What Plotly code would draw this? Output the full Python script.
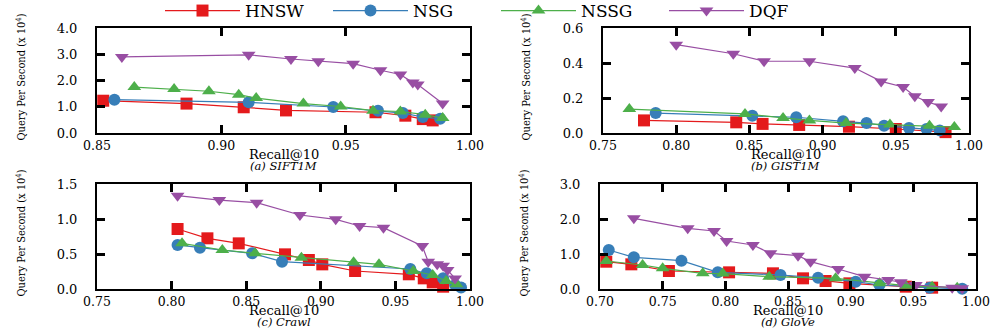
import plotly.graph_objects as go

# ---------------- data ----------------
methods = ["HNSW", "NSG", "NSSG", "DQF"]
colors = ["#e41a1c", "#377eb8", "#4daf4a", "#984ea3"]
symbols = ["square", "circle", "triangle-up", "triangle-down"]

# (a) SIFT1M
sift_hnsw_x = [0.8525, 0.886, 0.909, 0.926, 0.962, 0.974, 0.981, 0.985]
sift_hnsw_y = [1.23, 1.12, 0.98, 0.86, 0.79, 0.66, 0.53, 0.48]
sift_nsg_x = [0.857, 0.911, 0.945, 0.963, 0.973, 0.981, 0.988]
sift_nsg_y = [1.27, 1.17, 0.99, 0.85, 0.76, 0.61, 0.54]
sift_nssg_x = [0.865, 0.881, 0.895, 0.907, 0.914, 0.933, 0.948, 0.961, 0.972, 0.982, 0.989]
sift_nssg_y = [1.75, 1.68, 1.59, 1.46, 1.33, 1.12, 1.01, 0.85, 0.82, 0.70, 0.57]
sift_dqf_x = [0.860, 0.911, 0.928, 0.939, 0.953, 0.964, 0.972, 0.977, 0.979, 0.989]
sift_dqf_y = [2.90, 2.98, 2.82, 2.73, 2.64, 2.39, 2.23, 1.92, 1.85, 1.12]

# (b) GIST1M
gist_hnsw_x = [0.778, 0.841, 0.859, 0.884, 0.918, 0.950, 0.984]
gist_hnsw_y = [0.072, 0.061, 0.052, 0.046, 0.036, 0.023, 0.005]
gist_nsg_x = [0.786, 0.852, 0.882, 0.914, 0.930, 0.942, 0.959, 0.971, 0.980]
gist_nsg_y = [0.114, 0.099, 0.090, 0.067, 0.057, 0.042, 0.029, 0.023, 0.015]
gist_nssg_x = [0.768, 0.847, 0.873, 0.891, 0.916, 0.946, 0.973, 0.990]
gist_nssg_y = [0.137, 0.109, 0.086, 0.072, 0.057, 0.048, 0.042, 0.034]
gist_dqf_x = [0.800, 0.839, 0.860, 0.891, 0.922, 0.940, 0.955, 0.963, 0.972, 0.981]
gist_dqf_y = [0.505, 0.453, 0.410, 0.410, 0.371, 0.295, 0.263, 0.210, 0.177, 0.152]

# (c) Crawl
crawl_hnsw_x = [0.804, 0.824, 0.845, 0.876, 0.892, 0.901, 0.923, 0.959, 0.969, 0.975, 0.982]
crawl_hnsw_y = [0.857, 0.724, 0.652, 0.495, 0.414, 0.352, 0.257, 0.210, 0.152, 0.095, 0.033]
crawl_nsg_x = [0.804, 0.819, 0.854, 0.874, 0.960, 0.971, 0.982, 0.990, 0.994]
crawl_nsg_y = [0.629, 0.590, 0.510, 0.390, 0.286, 0.224, 0.152, 0.057, 0.020]
crawl_nssg_x = [0.807, 0.834, 0.856, 0.887, 0.922, 0.939, 0.962, 0.975, 0.984, 0.991]
crawl_nssg_y = [0.652, 0.557, 0.510, 0.448, 0.381, 0.352, 0.257, 0.200, 0.114, 0.067]
crawl_dqf_x = [0.804, 0.832, 0.857, 0.886, 0.910, 0.926, 0.942, 0.968, 0.972, 0.978, 0.982, 0.985, 0.990]
crawl_dqf_y = [1.333, 1.271, 1.233, 1.057, 0.995, 0.900, 0.876, 0.614, 0.390, 0.352, 0.333, 0.270, 0.150]

# (d) GloVe
glove_hnsw_x = [0.705, 0.725, 0.755, 0.803, 0.838, 0.862, 0.880, 0.899, 0.944, 0.965]
glove_hnsw_y = [0.78, 0.705, 0.514, 0.476, 0.448, 0.305, 0.229, 0.162, 0.067, 0.038]
glove_nsg_x = [0.707, 0.727, 0.765, 0.794, 0.844, 0.874, 0.904, 0.923, 0.963, 0.989]
glove_nsg_y = [1.114, 0.905, 0.810, 0.476, 0.400, 0.324, 0.210, 0.114, 0.038, 0.005]
glove_nssg_x = [0.705, 0.734, 0.750, 0.782, 0.798, 0.835, 0.888, 0.923, 0.944, 0.965, 0.985]
glove_nssg_y = [0.80, 0.686, 0.590, 0.448, 0.440, 0.352, 0.305, 0.162, 0.095, 0.067, 0.038]
glove_dqf_x = [0.727, 0.770, 0.791, 0.801, 0.822, 0.836, 0.858, 0.868, 0.890, 0.911, 0.930, 0.940, 0.952, 0.981, 0.989]
glove_dqf_y = [2.02, 1.733, 1.657, 1.37, 1.257, 1.02, 0.952, 0.78, 0.571, 0.352, 0.257, 0.19, 0.114, 0.038, 0.02]

x_title = "Recall@10"
y_title = "Query Per Second (x 10<sup>4</sup>)"
captions = ["<i>(a) SIFT1M</i>", "<i>(b) GIST1M</i>", "<i>(c) Crawl</i>", "<i>(d) GloVe</i>"]

x_ranges = [[0.85, 1.00], [0.75, 1.00], [0.75, 1.00], [0.70, 1.00]]
y_ranges = [[0, 4.0], [0, 0.6], [0, 1.5], [0, 3.0]]
y_dticks = [1.0, 0.2, 0.5, 1.0]

panels = [
    [(sift_hnsw_x, sift_hnsw_y), (sift_nsg_x, sift_nsg_y), (sift_nssg_x, sift_nssg_y), (sift_dqf_x, sift_dqf_y)],
    [(gist_hnsw_x, gist_hnsw_y), (gist_nsg_x, gist_nsg_y), (gist_nssg_x, gist_nssg_y), (gist_dqf_x, gist_dqf_y)],
    [(crawl_hnsw_x, crawl_hnsw_y), (crawl_nsg_x, crawl_nsg_y), (crawl_nssg_x, crawl_nssg_y), (crawl_dqf_x, crawl_dqf_y)],
    [(glove_hnsw_x, glove_hnsw_y), (glove_nsg_x, glove_nsg_y), (glove_nssg_x, glove_nssg_y), (glove_dqf_x, glove_dqf_y)],
]

# ---------------- layout geometry ----------------
W, H = 996, 329
px_boxes = [  # left, right, top, bottom in pixels
    (97, 470, 28, 133),
    (603, 969, 28, 133),
    (97, 470, 184, 289),
    (600, 976, 184, 289),
]
ytitle_px = [21, 526, 21, 524]

FONT = "DejaVu Serif, Liberation Serif, serif"
TITLE_FONT = "DejaVu Serif Condensed, Liberation Serif, serif"

fig = go.Figure()
layout = dict(
    width=W, height=H,
    margin=dict(l=0, r=0, t=0, b=0, autoexpand=False),
    paper_bgcolor="white", plot_bgcolor="white",
    font=dict(family=FONT, size=13, color="black"),
    showlegend=True,
    legend=dict(orientation="h", x=160 / W, xanchor="left", y=1 - 11 / H, yanchor="middle",
                font=dict(family=FONT, size=17), itemwidth=75,
                entrywidth=78, entrywidthmode="pixels",
                traceorder="normal", bgcolor="rgba(0,0,0,0)"),
)
annotations = []

for i, (box, series) in enumerate(zip(px_boxes, panels)):
    l, r, t, b = box
    xa = "xaxis" if i == 0 else f"xaxis{i+1}"
    ya = "yaxis" if i == 0 else f"yaxis{i+1}"
    xref = "x" if i == 0 else f"x{i+1}"
    yref = "y" if i == 0 else f"y{i+1}"
    for j, (xs, ys) in enumerate(series):
        fig.add_trace(go.Scatter(
            x=xs, y=ys, mode="lines+markers", name=methods[j],
            legendgroup=methods[j], showlegend=(i == 0),
            line=dict(color=colors[j], width=1.2),
            marker=dict(symbol=symbols[j], size=12, color=colors[j]),
            xaxis=xref, yaxis=yref, cliponaxis=False,
        ))
    layout[xa] = dict(
        domain=[l / W, r / W], anchor=yref, range=x_ranges[i], dtick=0.05, tick0=0,
        tickformat=".2f", showgrid=False, zeroline=False, automargin=False,
        showline=True, linecolor="black", linewidth=2, mirror="ticks",
        ticks="inside", ticklen=8, tickwidth=3, tickcolor="black",
        tickfont=dict(family=FONT, size=12.5),
    )
    layout[ya] = dict(
        domain=[1 - b / H, 1 - t / H], anchor=xref, range=y_ranges[i], dtick=y_dticks[i], tick0=0,
        tickformat=".1f", showgrid=False, zeroline=False, automargin=False,
        showline=True, linecolor="black", linewidth=2, mirror="ticks",
        ticks="inside", ticklen=8, tickwidth=3, tickcolor="black",
        tickfont=dict(family=FONT, size=13), ticklabelstandoff=15,
    )
    # x-axis title
    annotations.append(dict(
        text=x_title, xref="paper", yref="paper",
        x=(l + r) / 2 / W, y=1 - (b + 21) / H, xanchor="center", yanchor="middle",
        showarrow=False, font=dict(family=FONT, size=13),
    ))
    # y-axis title
    annotations.append(dict(
        text=y_title, xref="paper", yref="paper", textangle=-90,
        x=ytitle_px[i] / W, y=1 - ((t + b) / 2 - 3) / H, xanchor="center", yanchor="middle",
        showarrow=False, font=dict(family=TITLE_FONT, size=11),
    ))
    # caption
    annotations.append(dict(
        text=captions[i], xref="paper", yref="paper",
        x=(l + r) / 2 / W, y=1 - (b + 33) / H, xanchor="center", yanchor="middle",
        showarrow=False, font=dict(family=FONT, size=11.5),
    ))

layout["annotations"] = annotations
fig.update_layout(**layout)
fig.write_html("out.html", config={"displayModeBar": False},
               post_script="document.body.style.margin='0';")
